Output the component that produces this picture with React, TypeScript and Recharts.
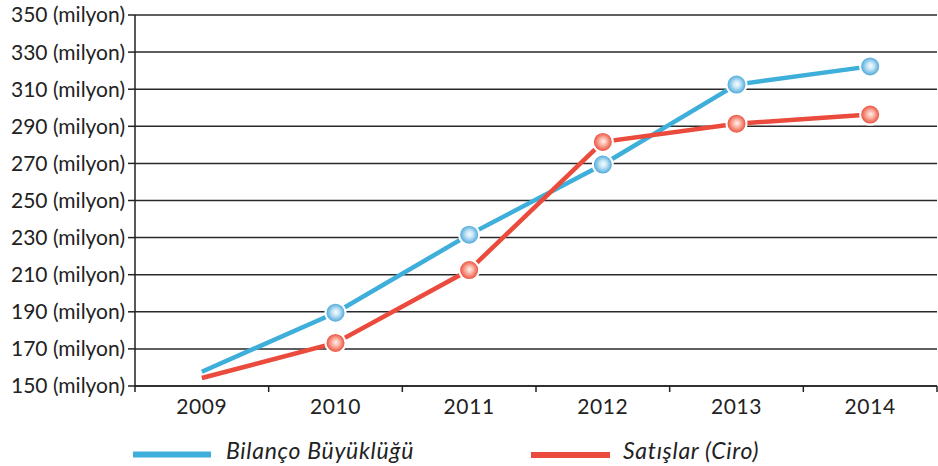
import React from 'react';
import { LineChart, Line, XAxis, YAxis, CartesianGrid } from 'recharts';

const years = ['2009', '2010', '2011', '2012', '2013', '2014'];
const bilanco = [157.7, 189.5, 231.6, 269.4, 312.5, 322.3];
const satislar = [154.3, 173.2, 212.5, 281.6, 291.4, 296.3];
const yTicks = [150, 170, 190, 210, 230, 250, 270, 290, 310, 330, 350];

const BLUE = '#3eaedb';
const RED = '#ea4b3c';
const INK = '#222';
const FONT = 'Lato, "Noto Sans", sans-serif';

const W = 938;
const H = 466;
const LEFT = 135;
const RIGHT = 1;
const TICK_MARGIN = 13;
const bandW = (W - LEFT - RIGHT) / years.length;

const data = years.map((y, i) => ({ year: y, bilanco: bilanco[i], satislar: satislar[i] }));

const XTick = (props: any) => {
  const { x, y, payload, index } = props;
  const axisY = y - TICK_MARGIN;
  const left = x - bandW / 2;
  return (
    <g>
      <line x1={left} x2={left} y1={axisY} y2={axisY + 6} stroke={INK} strokeWidth={1.5} />
      {index === years.length - 1 && (
        <line x1={x + bandW / 2} x2={x + bandW / 2} y1={axisY} y2={axisY + 6} stroke={INK} strokeWidth={1.5} />
      )}
      <text x={x} y={y} dy="0.71em" textAnchor="middle" fill={INK} fontSize={21} letterSpacing={0.6} fontFamily={FONT}>
        {payload.value}
      </text>
    </g>
  );
};

const makeDot = (grad: string) => (props: any) => {
  const { cx, cy, index } = props;
  if (index === 0) return <g key={`d-${grad}-${index}`} />;
  return (
    <circle key={`d-${grad}-${index}`} cx={cx} cy={cy} r={10} fill={`url(#${grad})`} stroke="#fff" strokeWidth={2} />
  );
};

const App: React.FC = () => {
  return (
    <div style={{ position: 'absolute', left: 0, top: 0, width: W, height: H, background: '#fff' }}>
      <LineChart width={W} height={H} data={data} margin={{ top: 15, right: RIGHT, left: 0, bottom: 40 }}>
        <defs>
          <radialGradient id="gBlue" cx="50%" cy="50%" r="50%" fx="53%" fy="47%">
            <stop offset="0%" stopColor="#f7fcff" />
            <stop offset="35%" stopColor="#c6e6f6" />
            <stop offset="100%" stopColor="#3d9fd6" />
          </radialGradient>
          <radialGradient id="gRed" cx="50%" cy="50%" r="50%" fx="53%" fy="47%">
            <stop offset="0%" stopColor="#fff4f0" />
            <stop offset="35%" stopColor="#fcb9aa" />
            <stop offset="100%" stopColor="#e8412f" />
          </radialGradient>
        </defs>
        <CartesianGrid horizontal vertical={false} stroke="#2a2a2a" strokeWidth={1.5} />
        <XAxis
          dataKey="year"
          scale="band"
          height={40}
          axisLine={{ stroke: INK, strokeWidth: 1.5 }}
          tickLine={false}
          tickSize={0}
          tickMargin={TICK_MARGIN}
          tick={<XTick />}
          interval={0}
        />
        <YAxis
          width={LEFT}
          domain={[150, 350]}
          ticks={yTicks}
          interval={0}
          tickSize={7}
          tickMargin={3}
          axisLine={{ stroke: INK, strokeWidth: 1.5 }}
          tickLine={{ stroke: INK, strokeWidth: 1.5 }}
          tick={{ fill: INK, fontSize: 21, fontFamily: FONT }}
          tickFormatter={(v: number) => `${v} (milyon)`}
        />
        <Line
          dataKey="bilanco"
          stroke={BLUE}
          strokeWidth={4.5}
          dot={makeDot('gBlue')}
          activeDot={false}
          isAnimationActive={false}
        />
        <Line
          dataKey="satislar"
          stroke={RED}
          strokeWidth={4.5}
          dot={makeDot('gRed')}
          activeDot={false}
          isAnimationActive={false}
        />
      </LineChart>
      <svg width={W} height={H} style={{ position: 'absolute', left: 0, top: 0, pointerEvents: 'none' }}>
        <line x1={133} x2={211} y1={454.5} y2={454.5} stroke={BLUE} strokeWidth={6} />
        <text x={226} y={459} fill={INK} fontSize={23} letterSpacing={0.7} fontStyle="italic" fontFamily={FONT}>
          Bilanço Büyüklüğü
        </text>
        <line x1={531} x2={610} y1={455} y2={455} stroke={RED} strokeWidth={6} />
        <text x={623} y={459} fill={INK} fontSize={23} letterSpacing={0.7} fontStyle="italic" fontFamily={FONT}>
          Satışlar (Ciro)
        </text>
      </svg>
    </div>
  );
};

export default App;
